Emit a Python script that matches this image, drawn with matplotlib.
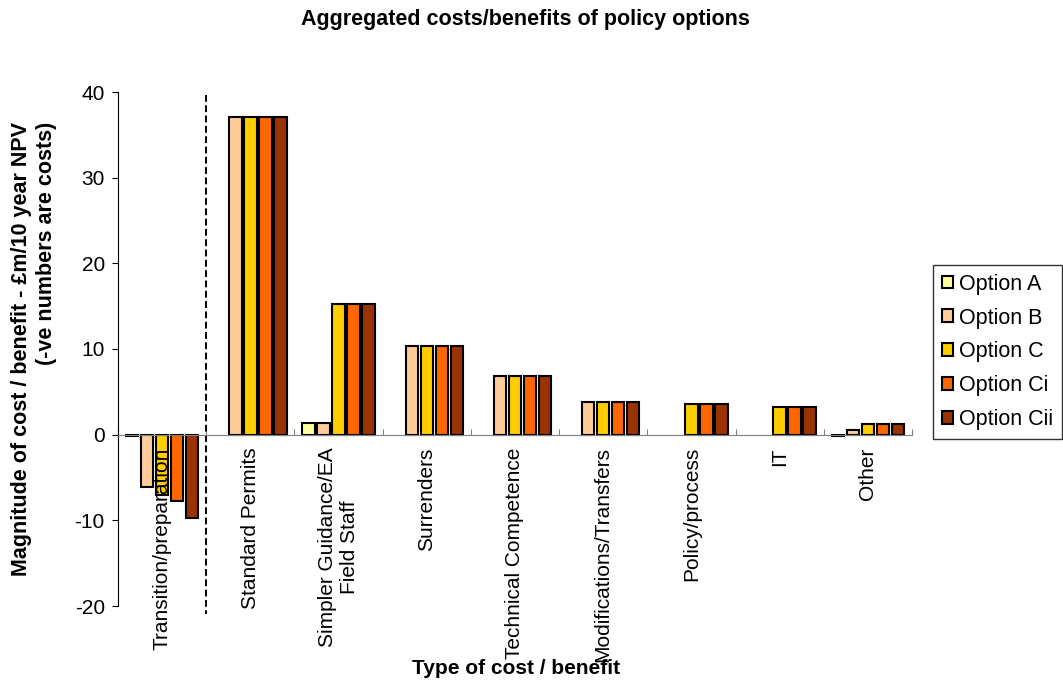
import numpy as np
import matplotlib.pyplot as plt
from matplotlib.patches import Patch

plt.rcParams['font.family'] = ['Liberation Sans', 'DejaVu Sans']
plt.rcParams['axes.unicode_minus'] = False

# Cost/benefit per category, £m over 10 years (negative = cost)
categories = ["Transition/preparation", "Standard Permits", "Simpler Guidance/EA\nField Staff",
              "Surrenders", "Technical Competence", "Modifications/Transfers",
              "Policy/process", "IT", "Other"]
option_names = ["Option A", "Option B", "Option C", "Option Ci", "Option Cii"]
option_a = [-0.15, 0, 1.4, 0, 0, 0, 0, 0, -0.15]
option_b = [-6.1, 37.1, 1.4, 10.3, 6.9, 3.8, 0, 0, 0.6]
option_c = [-7.1, 37.1, 15.2, 10.3, 6.9, 3.8, 3.6, 3.2, 1.3]
option_ci = [-7.7, 37.1, 15.2, 10.3, 6.9, 3.8, 3.6, 3.2, 1.3]
option_cii = [-9.7, 37.1, 15.2, 10.3, 6.9, 3.8, 3.6, 3.2, 1.3]
colors = ["#FFFF99", "#FFCC99", "#FFCC00", "#FF6600", "#993300"]

series = [option_a, option_b, option_c, option_ci, option_cii]

fig = plt.figure(figsize=(10.63, 6.84), dpi=100)
ax = fig.add_axes([118 / 1063, 1 - 606 / 684, (912 - 118) / 1063, (606 - 92) / 684])

x = np.arange(len(categories))
step = 0.17
width = 0.14
for i, (vals, col) in enumerate(zip(series, colors)):
    vals = np.array(vals, dtype=float)
    keep = vals != 0
    ax.bar(x[keep] + (i - 2) * step, vals[keep], width, color=col,
           edgecolor="black", linewidth=1.5, zorder=1)

ax.set_xlim(-0.5, len(categories) - 0.5)
ax.set_ylim(-20, 40)
ax.set_yticks(np.arange(-20, 41, 10))

# category axis sits on the zero line
ax.spines['bottom'].set_position(('data', 0))
ax.spines['bottom'].set_color('#808080')
ax.spines['top'].set_visible(False)
ax.spines['right'].set_visible(False)
ax.spines['left'].set_color('black')

ax.set_xticks(np.arange(-0.5, len(categories), 1))
ax.set_xticklabels([])
ax.set_xticks(x, minor=True)
ax.set_xticklabels(categories, minor=True, rotation=90, fontsize=15,
                   va='top', ha='center', multialignment='center')
ax.tick_params(axis='x', which='major', direction='in', length=4, color='#808080')
ax.tick_params(axis='x', which='minor', length=0, pad=9)
ax.tick_params(axis='y', direction='out', length=4.5, pad=5, labelsize=15)

# divider between transition costs and ongoing benefits
ax.plot([0.5, 0.5], [39.7, -20.9], color='black', lw=1.4,
        dashes=[3.5, 1.8], clip_on=False)

fig.text(525 / 1063, 1 - 19 / 684, "Aggregated costs/benefits of policy options",
         ha='center', va='center', fontsize=15.5, fontweight='bold')
fig.text(516 / 1063, 1 - 668 / 684, "Type of cost / benefit",
         ha='center', va='center', fontsize=15, fontweight='bold')
fig.text(34 / 1063, 1 - 349 / 684,
         "Magnitude of cost / benefit - £m/10 year NPV\n(-ve numbers are costs)",
         rotation=90, ha='center', va='center', multialignment='right',
         fontsize=15.5, fontweight='bold')

handles = [Patch(facecolor=c, edgecolor='black', linewidth=1.5) for c in colors]
leg = fig.legend(handles, option_names, loc='upper left',
                 bbox_to_anchor=(933 / 1063, 1 - 265 / 684), fontsize=15.5,
                 frameon=True, fancybox=False, edgecolor='black',
                 handlelength=0.55, handleheight=0.55, handletextpad=0.25,
                 labelspacing=0.6, borderpad=0.4, borderaxespad=0)
leg.get_frame().set_linewidth(1.0)

fig.savefig("out.png", dpi=100)
